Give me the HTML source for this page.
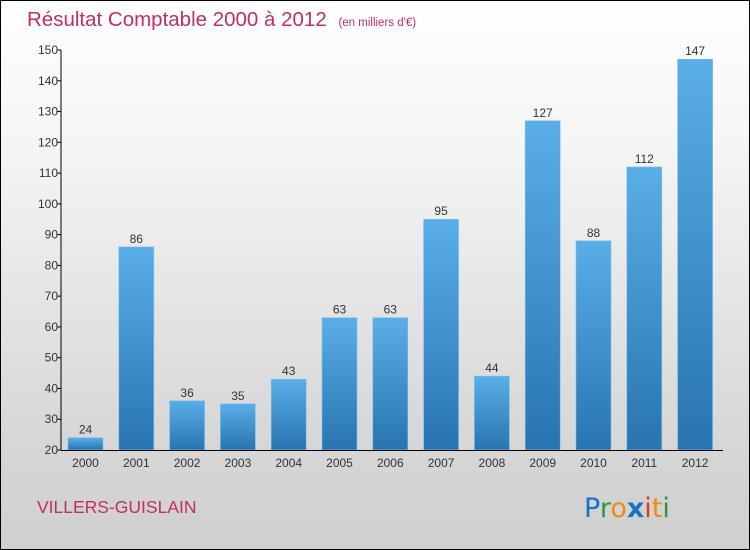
<!DOCTYPE html>
<html><head><meta charset="utf-8">
<style>
body{margin:0;}
#wrap{position:relative;width:748px;height:548px;border:1px solid #000;background:linear-gradient(#ffffff 0%,#f3f3f3 30%,#d9d9d9 75%,#cfcfcf 100%);font-family:"Liberation Sans",sans-serif;overflow:hidden;}
</style></head><body>
<div id="wrap">
<svg width="748" height="548">
<defs>
<linearGradient id="bg" x1="0" y1="0" x2="0" y2="1"><stop offset="0" stop-color="#5aaee8"/><stop offset="1" stop-color="#2874b0"/></linearGradient>
</defs>
<text x="26" y="25" font-size="20.5" fill="#c0305e">Résultat Comptable 2000 à 2012 <tspan font-size="11.5" dx="6">(en milliers d'€)</tspan></text>
<g id="plot"></g>
<text x="36" y="512" font-size="17.5" fill="#c0305e">VILLERS-GUISLAIN</text>
<g font-size="27" font-family="'DejaVu Sans',sans-serif">
<text x="583" y="516"><tspan fill="#1a72c4">P</tspan><tspan fill="#2a9a3a">r</tspan><tspan fill="#f08a10">o</tspan><tspan fill="#1a72c4" font-weight="bold">x</tspan><tspan fill="#e03a10">i</tspan><tspan fill="#f08a10">t</tspan><tspan fill="#2a9a3a">i</tspan></text>
</g>
</svg>
</div>
<script>
const categories=["2000","2001","2002","2003","2004","2005","2006","2007","2008","2009","2010","2011","2012"];
const values=[24,86,36,35,43,63,63,95,44,127,88,112,147];
const yTicks=[20,30,40,50,60,70,80,90,100,110,120,130,140,150];
const NS="http://www.w3.org/2000/svg";
const g=document.getElementById('plot');
const y=v=>449-(v-20)*400/130;
const x=i=>84.5+i*50.8;
function mk(t,a){const e=document.createElementNS(NS,t);for(const k in a)e.setAttribute(k,a[k]);g.appendChild(e);return e;}
categories.forEach((c,i)=>{
 const b=mk('rect',{x:x(i)-17.5,y:y(values[i]),width:35,height:449-y(values[i]),fill:'url(#bg)',stroke:'#7cc0f0','stroke-width':0.6});
 
 
 const l=mk('text',{x:x(i),y:y(values[i])-4,'text-anchor':'middle','font-size':12,fill:'#333'});
 l.textContent=values[i];
 
 
 const t=mk('text',{x:x(i),y:466,'text-anchor':'middle','font-size':12,fill:'#333'});
 t.textContent=c;
 
 
});
yTicks.forEach(v=>{
 mk('line',{x1:56,x2:60,y1:y(v),y2:y(v),stroke:'#000'});
 const t=mk('text',{x:57,y:y(v)+4,'text-anchor':'end','font-size':12,fill:'#333'});
 t.textContent=v;
 
 
});
const ya=mk('line',{x1:60,x2:60,y1:49,y2:449.5,stroke:'#000'});


const xa=mk('line',{x1:60,x2:722,y1:449.5,y2:449.5,stroke:'#000'});


</script>
</body></html>
